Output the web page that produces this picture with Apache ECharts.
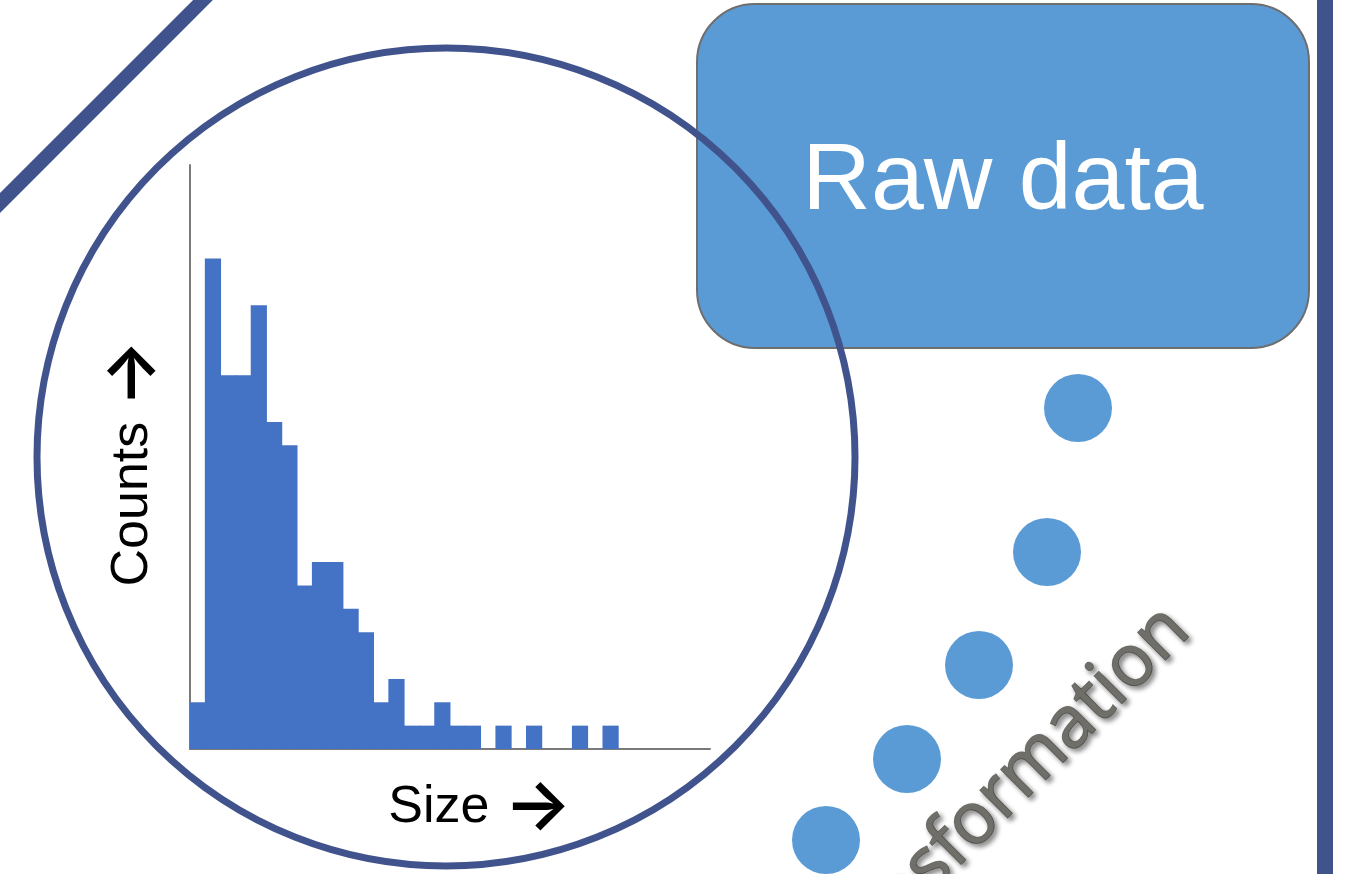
<!DOCTYPE html>
<html>
<head>
<meta charset="utf-8">
<title>Raw data histogram</title>
<script src="https://cdn.jsdelivr.net/npm/echarts@6/dist/echarts.min.js"></script>
<style>
  html, body { margin: 0; padding: 0; background: #fff; }
  #main { width: 1352px; height: 874px; }
</style>
</head>
<body>
<div id="main"></div>
<script>
// histogram bins (size classes) and their counts
var sizeBins = [];
for (var b = 1; b <= 34; b++) sizeBins.push('' + b);
var counts = [2, 21, 16, 16, 19, 14, 13, 7, 8, 8, 6, 5, 2, 3, 1, 1, 2, 1, 1, 0,
              1, 0, 1, 0, 0, 1, 0, 1, 0, 0, 0, 0, 0, 0];

var countMax = 25;
var xName = '{t|Size }{a|\u2192}';
var yName = '{t|Counts }{a|\u2192}';
var boxLabel = 'Raw data';
var stepLabel = 'Transformation';

var navy = '#41538c';
var lightBlue = '#5b9bd5';
var barBlue = '#4472c4';

var nameRich = {
  t: { fontFamily: 'Liberation Sans', fontSize: 52, color: '#000' },
  a: { fontFamily: 'Inter', fontSize: 71, fontWeight: 600, color: '#000' }
};

var chart = echarts.init(document.getElementById('main'));

var option = {
  animation: false,
  backgroundColor: '#ffffff',
  grid: { left: 190, top: 165, width: 520, height: 584, containLabel: false },
  xAxis: {
    type: 'category',
    data: sizeBins,
    boundaryGap: true,
    name: xName,
    nameLocation: 'middle',
    nameGap: 23,
    nameTextStyle: { padding: [0, 0, 0, 60], rich: nameRich },
    axisLine: { lineStyle: { color: '#7a7a7a', width: 2 } },
    axisTick: { show: false },
    axisLabel: { show: false },
    splitLine: { show: false }
  },
  yAxis: {
    type: 'value',
    min: 0,
    max: countMax,
    name: yName,
    nameLocation: 'middle',
    nameRotate: 90,
    nameGap: 22,
    nameTextStyle: { padding: [0, 12, 0, 0], rich: nameRich },
    axisLine: { show: true, lineStyle: { color: '#7a7a7a', width: 2 } },
    axisTick: { show: false },
    axisLabel: { show: false },
    splitLine: { show: false }
  },
  series: [{
    type: 'bar',
    data: counts,
    barWidth: '106%',
    itemStyle: { color: barBlue },
    z: 3
  }],
  graphic: [
    // diagonal stroke top-left
    { type: 'line', z: 1, shape: { x1: 223, y1: -20, x2: -20, y2: 223 },
      style: { stroke: navy, lineWidth: 14 } },
    // right border bar
    { type: 'rect', z: 1, shape: { x: 1317, y: 0, width: 16, height: 874 },
      style: { fill: navy } },
    // raw data box
    { type: 'rect', z: 4, shape: { x: 697, y: 4, width: 612, height: 344, r: 58 },
      style: { fill: lightBlue, stroke: '#6e6e6e', lineWidth: 2 } },
    { type: 'text', z: 5, x: 1003, y: 183,
      style: { text: boxLabel, fill: '#ffffff', font: '95px "Liberation Sans"',
               textAlign: 'center', textVerticalAlign: 'middle' } },
    // magnifier circle
    { type: 'circle', z: 10, shape: { cx: 446, cy: 457, r: 409 },
      style: { fill: 'none', stroke: navy, lineWidth: 7 } },
    // dots
    { type: 'circle', z: 4, shape: { cx: 1078, cy: 408, r: 34 }, style: { fill: lightBlue } },
    { type: 'circle', z: 4, shape: { cx: 1047, cy: 552, r: 34 }, style: { fill: lightBlue } },
    { type: 'circle', z: 4, shape: { cx: 979, cy: 665, r: 34 }, style: { fill: lightBlue } },
    { type: 'circle', z: 4, shape: { cx: 907, cy: 759, r: 34 }, style: { fill: lightBlue } },
    { type: 'circle', z: 4, shape: { cx: 826, cy: 840, r: 34 }, style: { fill: lightBlue } },
    // rotated step label
    { type: 'text', z: 6, x: 993, y: 803, rotation: Math.PI / 4,
      style: { text: stepLabel, fill: '#6f6e69', font: '72px "Open Sans"',
               stroke: '#6f6e69', lineWidth: 1.6,
               textAlign: 'center', textVerticalAlign: 'middle',
               textShadowColor: 'rgba(0,0,0,0.45)', textShadowBlur: 5,
               textShadowOffsetX: 3, textShadowOffsetY: 3 } }
  ]
};

chart.setOption(option);
</script>
</body>
</html>
